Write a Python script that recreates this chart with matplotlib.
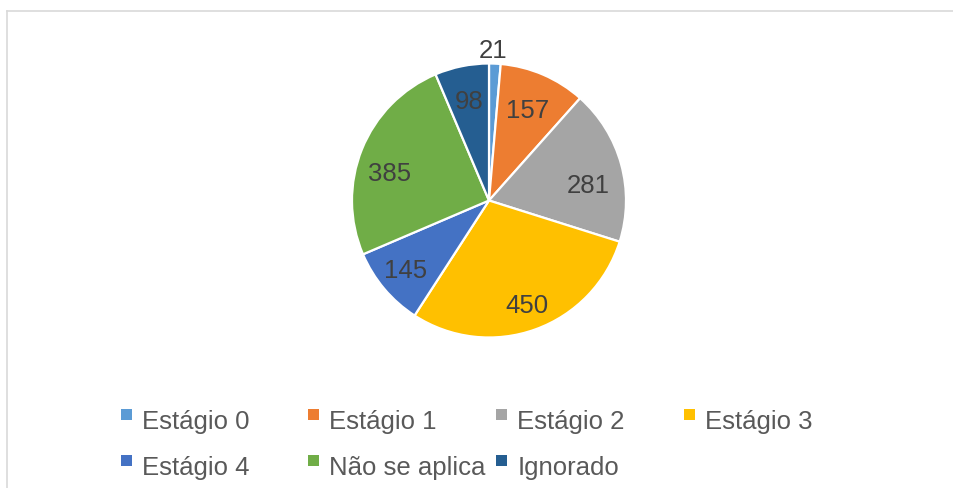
import numpy as np
import matplotlib
matplotlib.use('Agg')
import matplotlib.pyplot as plt
from matplotlib.patches import Rectangle
from matplotlib.lines import Line2D

# data
categories = ['Estágio 0', 'Estágio 1', 'Estágio 2', 'Estágio 3',
              'Estágio 4', 'Não se aplica', 'Ignorado']
values = [21, 157, 281, 450, 145, 385, 98]
colors = ['#5B9BD5', '#ED7D31', '#A5A5A5', '#FFC000',
          '#4472C4', '#70AD47', '#255E91']

# label placement (Excel "best fit" look): radius fraction and angle nudge
label_dist = [1.09, 0.71, 0.73, 0.82, 0.80, 0.75, 0.73]
label_nudge = [1, 0, -7, 0, 0, 7, 0]

W, H = 954, 488
plt.rcParams['font.family'] = ['Liberation Sans', 'DejaVu Sans']


def fx(px):
    return px / W


def fy(py):
    # pixel from top -> figure fraction
    return 1 - py / H


fig = plt.figure(figsize=(W / 100, H / 100), dpi=100)
fig.patch.set_facecolor('white')

# frame of the chart area (only top and left visible in the crop)
fig.add_artist(Line2D([fx(7), 1], [fy(10.5), fy(10.5)], color='#D9D9D9', lw=1.2))
fig.add_artist(Line2D([fx(7), fx(7)], [fy(10.5), 0], color='#D9D9D9', lw=1.2))

cx, cy, r = 489, 200.5, 137
ax = fig.add_axes([fx(cx - r), fy(cy + r), 2 * r / W, 2 * r / H])
wedges, _ = ax.pie(values, colors=colors, startangle=90, counterclock=False,
                   wedgeprops=dict(edgecolor='white', linewidth=1.6))
ax.set_xlim(-1, 1)
ax.set_ylim(-1, 1)
ax.set_aspect('equal')
ax.axis('off')

for w, v, d, n in zip(wedges, values, label_dist, label_nudge):
    ang = np.deg2rad((w.theta1 + w.theta2) / 2 + n)
    ax.text(d * np.cos(ang), d * np.sin(ang), str(v), ha='center', va='center',
            fontsize=18.5, color='#404040')

# legend, laid out like the Excel one (fixed column width)
col_x = [120.7, 308.5, 496.3, 684.1]
row_y = [429, 475]
for i, (lab, col) in enumerate(zip(categories, colors)):
    row, c = divmod(i, 4)
    mx = col_x[c]
    by = row_y[row]
    fig.add_artist(Rectangle((fx(mx), fy(by - 9)), 11 / W, 11 / H,
                             facecolor=col, edgecolor='none',
                             transform=fig.transFigure))
    fig.text(fx(mx + 21), fy(by), lab, fontsize=18.5, color='#595959',
             ha='left', va='baseline')

fig.savefig('out.png', dpi=100, facecolor='white')
